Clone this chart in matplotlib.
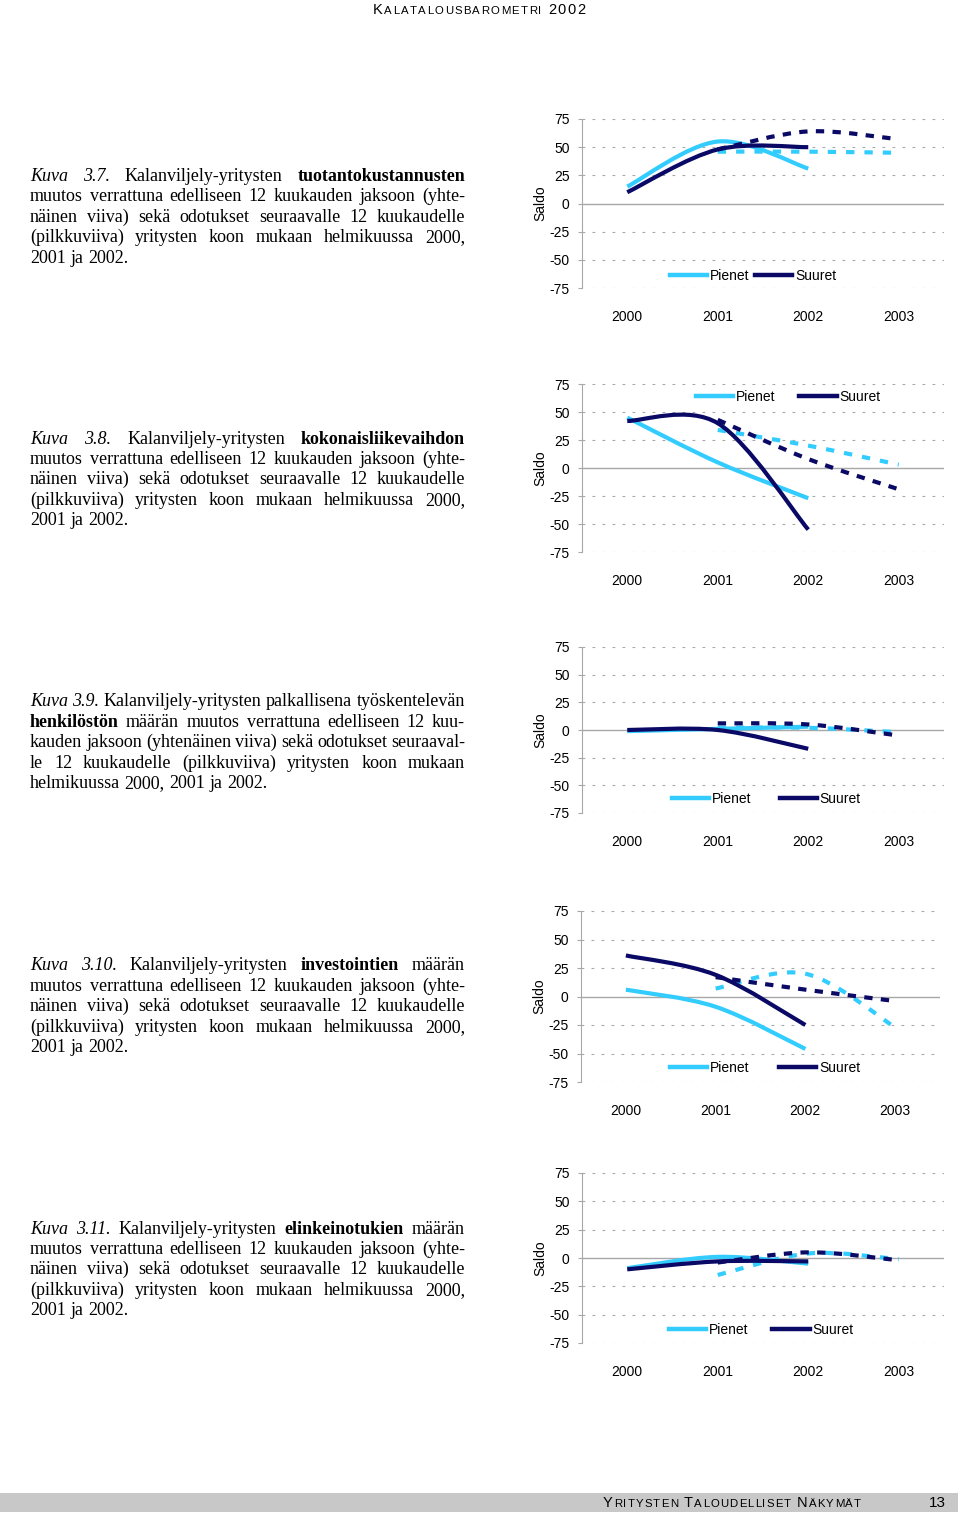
import numpy as np
import matplotlib
matplotlib.use('Agg')
import matplotlib.pyplot as plt
from matplotlib import font_manager
from matplotlib.path import Path
from matplotlib.patches import PathPatch, Rectangle
from matplotlib.lines import Line2D

W, H = 960, 1514

years = ['2000', '2001', '2002', '2003']
y_ticks = [75, 50, 25, 0, -25, -50, -75]
legend_labels = ['Pienet', 'Suuret']

# Kuva 3.7 tuotantokustannukset (toteutunut 2000-2002, odotus 2001-2003)
costs_small = [15, 55, 31]
costs_large = [10, 48, 50]
costs_small_exp = [46, 46, 45]
costs_large_exp = [48, 64, 57]

# Kuva 3.8 kokonaisliikevaihto
turnover_small = [45, 5, -27]
turnover_large = [42, 40, -55]
turnover_small_exp = [34, 20, 3]
turnover_large_exp = [43, 8, -19]

# Kuva 3.9 henkilöstö
staff_small = [-1, 1, 3]
staff_large = [0, 0, -17]
staff_small_exp = [2, 2, -2]
staff_large_exp = [6, 5, -5]

# Kuva 3.10 investoinnit
invest_small = [6, -9, -46]
invest_large = [36, 19, -25]
invest_small_exp = [7, 20, -27]
invest_large_exp = [17, 6, -4]

# Kuva 3.11 elinkeinotuet
subsidy_small = [-9, 1, -5]
subsidy_large = [-10, -3, -3]
subsidy_small_exp = [-15, 4, -1]
subsidy_large_exp = [-4, 5, -2]

panels = [
    (costs_small, costs_large, costs_small_exp, costs_large_exp),
    (turnover_small, turnover_large, turnover_small_exp, turnover_large_exp),
    (staff_small, staff_large, staff_small_exp, staff_large_exp),
    (invest_small, invest_large, invest_small_exp, invest_large_exp),
    (subsidy_small, subsidy_large, subsidy_small_exp, subsidy_large_exp),
]

body = [
    "muutos verrattuna edelliseen 12 kuukauden jaksoon (yhte-",
    "näinen viiva) sekä odotukset seuraavalle 12 kuukaudelle",
    "(pilkkuviiva) yritysten koon mukaan helmikuussa 2000,",
    "2001 ja 2002.",
]
captions = [
    ["/Kuva/ /3.7./ Kalanviljely-yritysten *tuotantokustannusten*"] + body,
    ["/Kuva/ /3.8./ Kalanviljely-yritysten *kokonaisliikevaihdon*"] + body,
    ["/Kuva/ /3.9./ Kalanviljely-yritysten palkallisena työskentelevän",
     "*henkilöstön* määrän muutos verrattuna edelliseen 12 kuu-",
     "kauden jaksoon (yhtenäinen viiva) sekä odotukset seuraaval-",
     "le 12 kuukaudelle (pilkkuviiva) yritysten koon mukaan",
     "helmikuussa 2000, 2001 ja 2002."],
    ["/Kuva/ /3.10./ Kalanviljely-yritysten *investointien* määrän"] + body,
    ["/Kuva/ /3.11./ Kalanviljely-yritysten *elinkeinotukien* määrän"] + body,
]

# page layout in pixels: axes box, legend (x, y, column spacing), first caption baseline
layout = [
    dict(top=119, bottom=288, left=582, right=944, leg=(663, 276, 0.35), cap=181),
    dict(top=384, bottom=552, left=582, right=944, leg=(689, 397, 1.7), cap=443.5),
    dict(top=647, bottom=813, left=582, right=944, leg=(665, 799, 2.0), cap=706.5),
    dict(top=911, bottom=1082, left=581, right=940, leg=(663, 1068, 2.1), cap=970.5),
    dict(top=1173, bottom=1343, left=582, right=944, leg=(662, 1330, 1.7), cap=1233.5),
]

C_SMALL = '#33ccff'
C_LARGE = '#0a0a66'
GRID = '#a8a8a8'

available = {f.name for f in font_manager.fontManager.ttflist}
SANS = 'Liberation Sans'
NARROW = 'Liberation Sans Narrow' if 'Liberation Sans Narrow' in available else SANS
SERIF = 'Liberation Serif'
plt.rcParams['font.family'] = SANS


def smooth_path(xs, ys):
    # excel-like smoothed line: cubic bezier segments through the points
    pts = list(zip(xs, ys))
    n = len(pts)
    verts = [pts[0]]
    codes = [Path.MOVETO]
    for i in range(n - 1):
        p0 = pts[max(i - 1, 0)]
        p1 = pts[i]
        p2 = pts[i + 1]
        p3 = pts[min(i + 2, n - 1)]
        c1 = (p1[0] + (p2[0] - p0[0]) / 6, p1[1] + (p2[1] - p0[1]) / 6)
        c2 = (p2[0] - (p3[0] - p1[0]) / 6, p2[1] - (p3[1] - p1[1]) / 6)
        verts += [c1, c2, p2]
        codes += [Path.CURVE4] * 3
    return Path(verts, codes)


def fx(x):
    return x / W


def fy(y):
    return 1 - y / H


fig = plt.figure(figsize=(W / 100, H / 100), dpi=100)
renderer = fig.canvas.get_renderer()


def draw_line(line, x0, x1, base, justify, size=13):
    items = []
    for w in line.split(' '):
        style, weight = 'normal', 'normal'
        if len(w) > 2 and w.startswith('/') and w.endswith('/'):
            w, style = w[1:-1], 'italic'
        elif len(w) > 2 and w.startswith('*') and w.endswith('*'):
            w, weight = w[1:-1], 'bold'
        t = fig.text(0, fy(base), w, fontsize=size, family=SERIF, style=style,
                     weight=weight, va='baseline', ha='left')
        items.append((t, t.get_window_extent(renderer).width))
    total = sum(wd for _, wd in items)
    if justify and len(items) > 1:
        gap = (x1 - x0 - total) / (len(items) - 1)
    else:
        gap = size * 100 / 72 * 0.25
    x = x0
    for t, wd in items:
        t.set_x(fx(x))
        x += wd + gap


def small_caps(text, x0, x1, base, size):
    chars = []
    for word in text.split(' '):
        for i, ch in enumerate(word):
            sz = size * 0.78 if (ch.isalpha() and i > 0) else size
            chars.append((ch.upper(), sz))
        chars.append((' ', size))
    chars.pop()
    items = []
    for ch, sz in chars:
        if ch == ' ':
            items.append((None, sz * 100 / 72 * 0.28))
            continue
        t = fig.text(0, fy(base), ch, fontsize=sz, family=NARROW, va='baseline', ha='left')
        items.append((t, t.get_window_extent(renderer).width))
    total = sum(wd for _, wd in items)
    track = (x1 - x0 - total) / (len(items) - 1)
    x = x0
    for t, wd in items:
        if t is not None:
            t.set_x(fx(x))
        x += wd + track


x_real = np.arange(3)
x_exp = np.arange(1, 4)

for cfg, (small, large, small_exp, large_exp), cap in zip(layout, panels, captions):
    ax = fig.add_axes([fx(cfg['left']), fy(cfg['bottom']),
                       (cfg['right'] - cfg['left']) / W, (cfg['bottom'] - cfg['top']) / H])
    ax.set_xlim(-0.5, 3.5)
    ax.set_ylim(-75, 75)
    ax.set_facecolor('none')
    for s in ['top', 'right', 'bottom']:
        ax.spines[s].set_visible(False)
    ax.spines['left'].set_color(GRID)
    ax.spines['left'].set_linewidth(0.8)
    ax.set_yticks(y_ticks)
    ax.set_yticklabels([str(v) for v in y_ticks])
    ax.set_xticks(range(len(years)))
    ax.set_xticklabels(years)
    ax.tick_params(axis='y', length=3, width=0.8, color=GRID, pad=6, labelsize=10)
    ax.tick_params(axis='x', length=0, pad=16, labelsize=10)
    for v in y_ticks:
        if v != 0:
            ax.axhline(v, color=GRID, lw=0.8, dashes=(2.5, 6.5), zorder=0)
    ax.axhline(0, color=GRID, lw=1, zorder=0)
    ax.text(-42 / 362, 0.5, 'Saldo', transform=ax.transAxes, rotation=90,
            ha='center', va='center', fontsize=10)

    for xs, ys, color, ls in [(x_real, small, C_SMALL, '-'),
                              (x_exp, small_exp, C_SMALL, (0, (2, 2.4))),
                              (x_real, large, C_LARGE, '-'),
                              (x_exp, large_exp, C_LARGE, (0, (2, 2)))]:
        ax.add_patch(PathPatch(smooth_path(xs, ys), fill=False, edgecolor=color,
                               lw=3, linestyle=ls, capstyle='butt', joinstyle='round'))

    lx, ly, csp = cfg['leg']
    handles = [Line2D([], [], color=C_SMALL, lw=3.2), Line2D([], [], color=C_LARGE, lw=3.2)]
    ax.legend(handles, legend_labels, ncol=2, frameon=False, fontsize=10,
              loc='center left', borderpad=0, handlelength=2.7, handletextpad=0.2,
              columnspacing=csp,
              bbox_to_anchor=((lx - cfg['left']) / (cfg['right'] - cfg['left']),
                              (cfg['bottom'] - ly) / (cfg['bottom'] - cfg['top'])))

    for i, line in enumerate(cap):
        draw_line(line, 30, 465, cfg['cap'] + i * 20.4, justify=(i < len(cap) - 1))

# header and footer
small_caps('Kalatalousbarometri 2002', 373, 585, 13.5, 10.5)
fig.patches.append(Rectangle((0, fy(1512)), fx(958), (1512 - 1493) / H,
                             transform=fig.transFigure, facecolor='#c8c8c8',
                             edgecolor='none', zorder=0))
small_caps('Yritysten taloudelliset näkymät', 603, 861, 1507, 10.5)
fig.text(fx(946), fy(1507), '13', fontsize=11, family=NARROW, ha='right', va='baseline')

fig.savefig('out.png', dpi=100)
